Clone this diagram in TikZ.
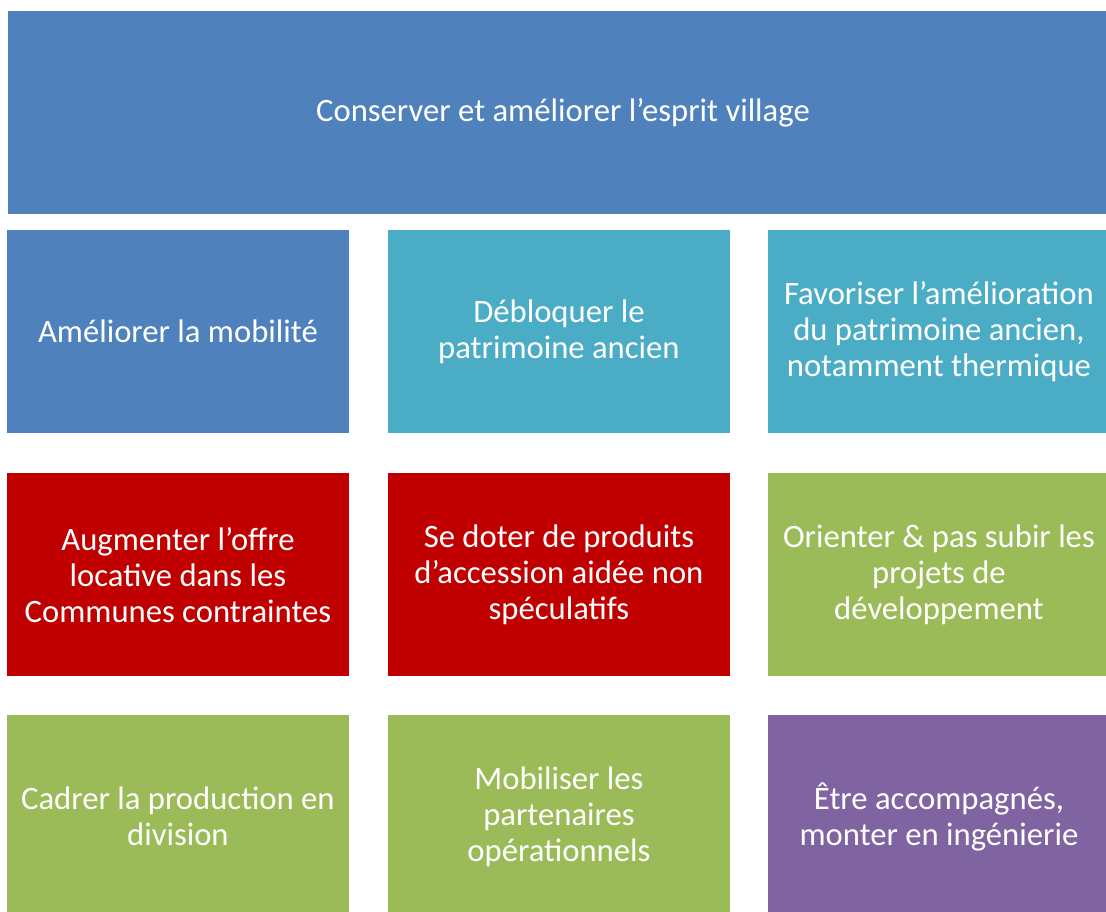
\documentclass[tikz,border=0pt]{standalone}
\usepackage{fontspec}
\setmainfont{Carlito}
\usepackage{xcolor}

\definecolor{blocblue}{HTML}{4F81BD}
\definecolor{blocteal}{HTML}{4BACC6}
\definecolor{blocred}{HTML}{C00000}
\definecolor{blocgreen}{HTML}{9BBB59}
\definecolor{blocpurple}{HTML}{8064A2}

\begin{document}
\begin{tikzpicture}[x=0.75pt,y=-0.75pt,
	bloc/.style={anchor=north west,inner sep=0pt,minimum width=256pt,minimum height=152pt,
		align=center,text=white,font=\fontsize{24.5}{27}\selectfont},
	wide/.style={bloc,minimum width=832pt}]
	\useasboundingbox (0,0) rectangle (1106,911);
	\clip (0,0) rectangle (1106,911);
	
	% axe principal
	\node [wide,fill=blocblue] (esprit) at (8,11) {Conserver et améliorer l’esprit village};
	
	% premiere rangee
	\node [bloc,fill=blocblue] (mobilite) at (7,230) {Améliorer la mobilité};
	\node [bloc,fill=blocteal] (debloquer) at (388,230) {Débloquer le\\patrimoine ancien};
	\node [bloc,fill=blocteal] (thermique) at (768,230) {Favoriser l’amélioration\\du patrimoine ancien,\\notamment thermique};
	
	% deuxieme rangee
	\node [bloc,fill=blocred] (locative) at (7,473) {Augmenter l’offre\\locative dans les\\Communes contraintes};
	\node [bloc,fill=blocred] (accession) at (388,473) {Se doter de produits\\d’accession aidée non\\spéculatifs};
	\node [bloc,fill=blocgreen] (orienter) at (768,473) {Orienter \& pas subir les\\projets de\\développement};
	
	% troisieme rangee
	\node [bloc,fill=blocgreen] (division) at (7,715) {Cadrer la production en\\division};
	\node [bloc,fill=blocgreen] (partenaires) at (388,715) {Mobiliser les\\partenaires\\opérationnels};
	\node [bloc,fill=blocpurple] (ingenierie) at (768,715) {Être accompagnés,\\monter en ingénierie};
	
\end{tikzpicture}
\end{document}
